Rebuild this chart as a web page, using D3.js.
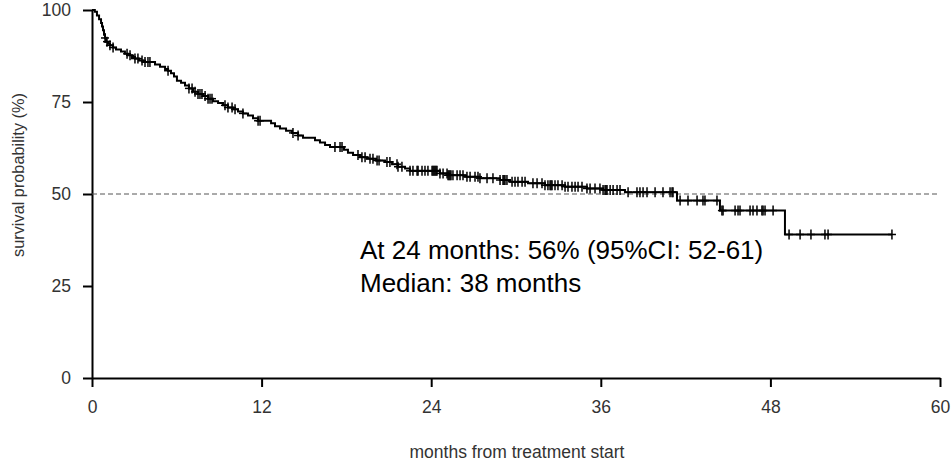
<!DOCTYPE html>
<html><head><meta charset="utf-8">
<script src="https://cdn.jsdelivr.net/npm/d3@7"></script>
<style>
html,body{margin:0;padding:0;background:#fff;}
svg{display:block;font-family:"Liberation Sans",Arial,sans-serif;}
</style></head>
<body>
<svg id="chart" width="952" height="464"></svg>
<script>
// Step times (months) and survival (%) after each step
const eventMonths = [0,0.2,0.35,0.5,0.64,0.71,0.78,0.85,0.92,0.99,1.13,1.27,1.49,1.70,2.05,2.33,2.55,2.83,3.04,3.33,3.61,4.46,4.81,5.17,5.38,5.59,5.80,6.01,6.30,6.58,6.86,7.15,7.50,7.85,8.21,8.56,8.92,9.27,9.62,9.98,10.33,10.68,11.04,11.39,11.75,12.67,12.95,13.30,13.73,14.15,14.58,14.93,15.78,16.13,16.49,16.84,17.83,18.11,18.47,18.96,19.46,20.10,20.73,21.23,21.65,22.15,22.50,24.62,25.19,26.39,27.45,28.87,29.58,30.85,32.05,33.47,35.02,36.16,37.71,41.39,44.43,49.03];
const survivalPct = [100,99.5,98.5,97.5,96.5,95.5,94.5,93.3,92.4,91.4,90.8,90.4,89.8,89.3,88.7,88.1,87.7,87.2,86.8,86.3,85.9,85.2,84.6,84.0,83.5,82.8,81.9,80.8,80.2,79.5,78.7,77.8,77.2,76.6,75.9,75.2,74.7,74.1,73.5,73.0,72.4,71.9,71.3,70.6,69.9,69.2,68.4,67.8,67.2,66.6,65.9,65.3,64.6,64.0,63.3,62.8,62.0,61.2,60.6,60.0,59.6,59.1,58.7,58.1,57.4,56.9,56.3,55.6,55.1,54.7,54.3,53.8,53.3,52.9,52.4,52.0,51.5,51.1,50.5,48.2,45.5,39.0];
const lastMonth = 56.6;
// Censoring times (months)
const censorMonths = [0.92,1.06,1.27,1.49,2.48,2.69,3.04,3.25,3.54,3.75,3.96,4.10,5.38,6.86,7.08,7.29,7.50,7.64,7.78,8.00,8.21,8.35,8.49,9.41,9.62,9.91,10.12,10.68,11.75,11.89,14.22,14.58,17.19,17.55,17.69,18.82,19.10,19.32,19.67,19.88,20.17,20.31,20.87,21.08,21.58,21.65,21.93,22.50,22.71,23.00,23.07,23.35,23.56,23.77,24.06,24.13,24.20,24.27,24.34,24.41,24.62,24.84,25.12,25.19,25.26,25.33,25.40,25.54,25.83,26.04,26.25,26.53,26.75,27.10,27.31,27.45,27.95,28.37,28.87,29.08,29.15,29.22,29.36,29.72,29.93,30.14,30.43,30.64,31.20,31.49,31.84,32.05,32.26,32.41,32.48,32.55,32.76,32.97,33.26,33.47,33.68,33.96,34.18,34.39,34.67,35.02,35.24,35.59,35.94,36.16,36.30,36.37,36.44,36.66,36.87,37.15,37.36,37.93,38.56,38.77,38.99,39.27,39.84,40.40,40.90,41.04,41.11,41.61,42.17,42.81,43.23,43.37,44.22,44.57,44.65,45.50,45.71,45.85,46.56,46.77,47.05,47.40,47.48,47.62,48.19,49.32,50.10,50.87,51.86,52.08,56.60];
const xTicks = [0,12,24,36,48,60];
const yTicks = [0,25,50,75,100];
const medianRef = 50;
const annotationLines = ["At 24 months: 56% (95%CI: 52-61)","Median: 38 months"];
const xLabel = "months from treatment start";
const yLabel = "survival probability (%)";

const svg = d3.select("#chart");
const x = d3.scaleLinear().domain([0,60]).range([92,940]);
const y = d3.scaleLinear().domain([0,100]).range([378,10]);

// axes
const xAxis = svg.append("g").attr("transform","translate(0,378)")
  .call(d3.axisBottom(x).tickValues(xTicks).tickSize(9).tickPadding(14).tickSizeOuter(0));
const yAxis = svg.append("g").attr("transform","translate(92,0)")
  .call(d3.axisLeft(y).tickValues(yTicks).tickSize(9).tickPadding(12).tickSizeOuter(0));
[xAxis,yAxis].forEach(a=>{
  a.select(".domain").attr("stroke","#000").attr("stroke-width",2);
  a.selectAll(".tick line").attr("stroke","#000").attr("stroke-width",2);
  a.selectAll(".tick text").attr("fill","#333").style("font-size","17.5px").style("font-family","'Liberation Sans',Arial,sans-serif");
});

// reference dashed line
svg.append("line").attr("x1",x(0)).attr("x2",x(60)).attr("y1",y(medianRef)).attr("y2",y(medianRef))
  .attr("stroke","#555").attr("stroke-width",1).attr("stroke-dasharray","5,3");

// KM step curve
const pts = eventMonths.map((t,i)=>[t,survivalPct[i]]);
pts.push([lastMonth, survivalPct[survivalPct.length-1]]);
const line = d3.line().x(d=>x(d[0])).y(d=>y(d[1])).curve(d3.curveStepAfter);
svg.append("path").datum(pts).attr("d",line).attr("fill","none").attr("stroke","#000").attr("stroke-width",2);

// censor marks
function survAt(t){
  let s = 100;
  for(let i=0;i<eventMonths.length;i++){ if(eventMonths[i]<=t) s = survivalPct[i]; else break; }
  return s;
}
const cg = svg.append("g").attr("stroke","#000").attr("stroke-width",1.5);
censorMonths.forEach(t=>{
  const cx = x(t), cy = y(survAt(t));
  cg.append("line").attr("x1",cx).attr("x2",cx).attr("y1",cy-5).attr("y2",cy+5);
  cg.append("line").attr("x1",cx-4).attr("x2",cx+4).attr("y1",cy).attr("y2",cy);
});

// annotation
const ann = svg.append("text").attr("x",360).attr("y",259).attr("fill","#000")
  .style("font-size","26px");
annotationLines.forEach((l,i)=>{
  ann.append("tspan").attr("x",360).attr("dy", i===0?0:33).text(l);
});

// axis labels
svg.append("text").attr("x",517).attr("y",458).attr("text-anchor","middle").attr("fill","#333")
  .style("font-size","17.5px").text(xLabel);
svg.append("text").attr("transform","translate(24,175) rotate(-90)").attr("text-anchor","middle").attr("fill","#333")
  .style("font-size","16.3px").text(yLabel);
</script>
</body></html>
